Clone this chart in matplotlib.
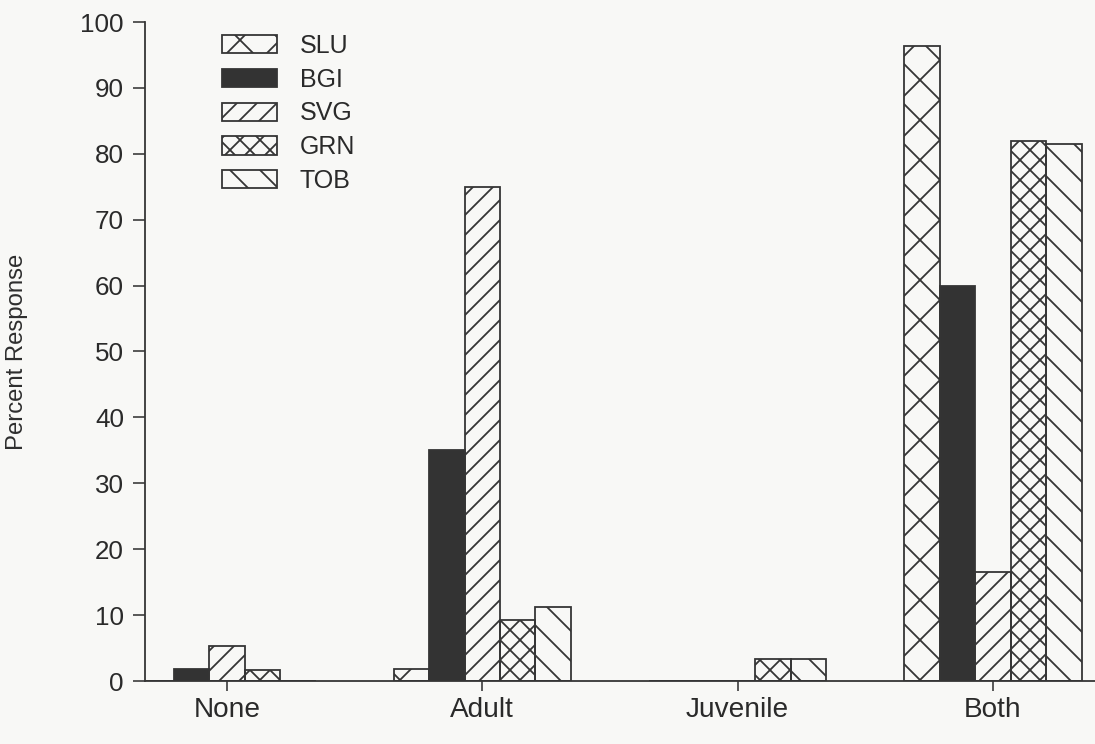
import matplotlib
matplotlib.use("Agg")
import matplotlib.pyplot as plt
import numpy as np

# Hatch spacing in matplotlib is tied to the dpi, so a high dpi with a small
# figure gives the wide hatch spacing of the original print.
DPI = 720
W, H = 1095, 744


def px(v):
    # pixel size -> points at this dpi
    return v * 72 / DPI


categories = ["None", "Adult", "Juvenile", "Both"]
series_names = ["SLU", "BGI", "SVG", "GRN", "TOB"]
slu = [0, 1.8, 0, 96.3]
bgi = [1.8, 35, 0, 60]
svg = [5.3, 75, 0, 16.5]
grn = [1.6, 9.2, 3.3, 82]
tob = [0, 11.2, 3.3, 81.5]
yticks = list(range(0, 101, 10))

values = [slu, bgi, svg, grn, tob]
hatches = ["x" * 6, "", "/" * 12, "x" * 12, "\\" * 8]
faces = ["none", "#333333", "none", "none", "none"]

INK = "#353535"
BG = "#f8f8f6"

plt.rcParams["font.family"] = ["Liberation Sans", "DejaVu Sans"]
plt.rcParams["hatch.linewidth"] = px(1.8)
plt.rcParams["hatch.color"] = INK

fig = plt.figure(figsize=(W / DPI, H / DPI), dpi=DPI)
fig.patch.set_facecolor(BG)
ax = fig.add_axes([145 / W, 1 - 681 / H, (W - 145) / W, (681 - 22) / H])
ax.set_facecolor(BG)

x = np.arange(len(categories))
width = 0.139
for i, (name, vals) in enumerate(zip(series_names, values)):
    ax.bar(x + (i - 2) * width, vals, width, label=name,
           facecolor=faces[i], edgecolor=INK, hatch=hatches[i],
           linewidth=px(1.8))

ax.set_xlim(-0.321, 3.40)
ax.set_ylim(0, 100)
ax.set_yticks(yticks)
ax.set_xticks(x)
ax.set_xticklabels(categories)

for side in ["top", "right"]:
    ax.spines[side].set_visible(False)
for side in ["left", "bottom"]:
    ax.spines[side].set_color(INK)
    ax.spines[side].set_linewidth(px(1.8))

ax.tick_params(axis="y", length=px(12), width=px(1.6), pad=px(9),
               labelsize=px(26), colors=INK, labelcolor="#2a2a2a")
ax.tick_params(axis="x", length=px(10), width=px(1.6), pad=px(6),
               labelsize=px(28), colors=INK, labelcolor="#2a2a2a")

ax.set_ylabel("Percent Response", fontsize=px(24), color="#2e2e2e")
ax.yaxis.set_label_coords((28 - 145) / (W - 145), 0.5)

ax.legend(loc="upper left", bbox_to_anchor=(222 / W, 1 - 34 / H),
          bbox_transform=fig.transFigure, frameon=False,
          fontsize=px(25), handlelength=2.2, handleheight=0.75,
          handletextpad=0.9, labelspacing=0.39, borderpad=0,
          borderaxespad=0, labelcolor="#2a2a2a")

fig.savefig("out.png", dpi=DPI, facecolor=BG)
